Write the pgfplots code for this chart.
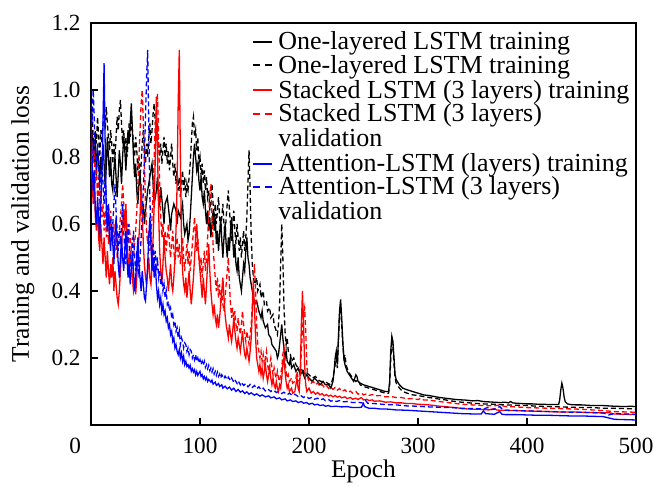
\documentclass[border=0pt]{standalone}
\usepackage{fontspec}
\setmainfont{Liberation Serif}
\usepackage{pgfplots}
\pgfplotsset{compat=1.18}

\tikzset{
  dsh/.style={dash pattern=on 2.5pt off 1.5pt},
  ldsh/.style={dash pattern=on 3.5pt off 2.5pt},
  legln/.style={line width=1pt},
  legtxt/.style={anchor=base west, inner sep=0pt, font=\fontsize{13}{14}\selectfont},
}

\pgfplotsset{
  lossstyle/.style={
    scale only axis, width=272.5pt, height=201pt,
    at={(0,0)}, anchor=south west,
    xmin=0, xmax=500, ymin=0, ymax=1.2,
    axis line style={line width=1pt},
    tick align=inside, tick pos=left,
    major tick length=3.5pt,
    every tick/.style={black, line width=0.8pt},
    xtick={0,100,200,300,400,500},
    xticklabels={\makebox[0pt][r]{0\hspace{5pt}},100,200,300,400,500},
    ytick={0.2,0.4,0.6,0.8,1.0,1.2},
    yticklabels={0.2,0.4,0.6,0.8,1.0,1.2},
    tick label style={font=\fontsize{11.6}{13}\selectfont},
    xticklabel style={yshift=-3pt},
    yticklabel style={xshift=-1.7pt},
    label style={font=\fontsize{12.7}{14}\selectfont},
    xlabel style={at={(axis description cs:0.5,-0.1318)}, anchor=base},
    ylabel style={at={(axis description cs:-0.1138,0.5)}, anchor=base},
    every axis plot/.append style={line width=0.65pt},
  },
}

\begin{document}
\begin{tikzpicture}
\useasboundingbox (-45.5pt,-31pt) rectangle (281.5pt,212.5pt);
\begin{axis}[
  lossstyle,
  xlabel={Epoch},
  ylabel={Traning and validation loss},
]

% One-layered LSTM training
\addplot[black] coordinates {
(0,0.80)(1,0.88)(2,0.84)(3,0.78)(4,0.86)(5,0.74)(6,0.82)(7,0.79)(8,0.72)(9,0.80)
(10,0.76)(11,0.84)(12,0.78)(13,0.71)(14,0.77)(15,0.86)(16,0.80)(17,0.74)(18,0.80)(19,0.72)
(20,0.70)(21,0.76)(22,0.80)(23,0.74)(24,0.68)(25,0.75)(26,0.82)(27,0.78)(28,0.72)(29,0.80)
(30,0.86)(31,0.82)(32,0.76)(33,0.83)(34,0.88)(35,0.84)(36,0.90)(37,0.96)(38,0.88)(39,0.80)
(40,0.74)(41,0.78)(42,0.70)(43,0.66)(44,0.72)(45,0.76)(46,0.68)(47,0.63)(48,0.66)(49,0.60)
(50,0.64)(52,0.70)(54,0.74)(56,0.78)(57,0.72)(58,0.66)(60,0.70)(61,0.74)(62,0.68)(63,0.66)
(64,0.71)(66,0.64)(67,0.60)(68,0.66)(70,0.68)(72,0.62)(73,0.58)(74,0.63)(76,0.66)(78,0.64)
(79,0.60)(80,0.64)(82,0.62)(84,0.66)(85,0.60)(86,0.57)(88,0.60)(89,0.55)(90,0.57)(91,0.62)
(92,0.68)(93,0.74)(94,0.80)(95,0.84)(96,0.80)(97,0.76)(98,0.78)(99,0.73)(100,0.70)(101,0.74)
(102,0.68)(103,0.66)(104,0.70)(105,0.64)(106,0.60)(107,0.64)(108,0.58)(109,0.62)(110,0.56)
(111,0.60)(112,0.64)(113,0.58)(114,0.62)(115,0.54)(116,0.58)(117,0.52)(118,0.57)(119,0.62)
(120,0.55)(121,0.50)(122,0.56)(123,0.60)(124,0.54)(125,0.50)(126,0.56)(127,0.52)(128,0.58)
(129,0.62)(130,0.56)(131,0.50)(132,0.54)(133,0.48)(134,0.46)(135,0.50)(136,0.44)(137,0.42)
(138,0.40)(139,0.44)(140,0.48)(141,0.46)(142,0.52)(143,0.56)(144,0.50)(145,0.48)(146,0.44)
(147,0.42)(148,0.40)(149,0.38)(150,0.36)(152,0.37)(154,0.34)(156,0.32)(157,0.34)(158,0.31)
(160,0.29)(162,0.30)(163,0.27)(165,0.26)(166,0.24)(168,0.23)(170,0.22)(171,0.20)(172,0.21)
(173,0.24)(174,0.27)(175,0.30)(176,0.26)(177,0.23)(178,0.20)(179,0.22)(180,0.19)(182,0.18)
(183,0.20)(184,0.17)(186,0.18)(188,0.16)(190,0.17)(192,0.15)(194,0.16)(196,0.14)(198,0.15)
(200,0.14)(203,0.13)(205,0.14)(208,0.13)(210,0.12)(213,0.13)(215,0.12)(218,0.12)(220,0.11)
(222,0.13)(223,0.16)(224,0.20)(225,0.22)(226,0.18)(227,0.26)(228,0.34)(229,0.375)(230,0.32)
(231,0.25)(232,0.20)(233,0.18)(235,0.16)(237,0.15)(239,0.14)(241,0.13)(243,0.15)(244,0.145)
(245,0.13)(247,0.125)(250,0.12)(255,0.115)(260,0.11)(265,0.105)(270,0.10)(273,0.10)(274,0.13)
(275,0.22)(276,0.265)(277,0.25)(278,0.20)(279,0.15)(280,0.135)(283,0.12)(286,0.11)(290,0.105)
(295,0.10)(300,0.095)(305,0.09)(310,0.088)(315,0.085)(320,0.082)(325,0.08)(330,0.078)
(335,0.076)(340,0.075)(345,0.074)(350,0.072)(355,0.073)(360,0.07)(365,0.069)(370,0.068)
(375,0.067)(380,0.068)(383,0.066)(385,0.07)(387,0.066)(390,0.065)(395,0.064)(400,0.063)
(405,0.063)(410,0.062)(415,0.062)(420,0.061)(425,0.061)(429,0.061)(430,0.075)(431,0.105)
(432,0.125)(433,0.11)(434,0.085)(435,0.07)(437,0.063)(440,0.061)(445,0.06)(450,0.06)
(460,0.058)(470,0.058)(480,0.056)(490,0.055)(495,0.056)(500,0.055)
};

% One-layered LSTM validation
\addplot[black, dsh] coordinates {
(0,0.90)(1,0.95)(2,0.86)(3,0.80)(4,0.88)(5,0.84)(6,0.92)(7,0.86)(8,0.80)(9,0.88)
(10,0.84)(11,0.90)(12,0.93)(13,0.88)(14,0.95)(15,0.90)(16,0.86)(17,0.82)(18,0.88)(19,0.84)
(20,0.78)(21,0.84)(22,0.80)(23,0.86)(24,0.92)(25,0.88)(26,0.94)(27,0.97)(28,0.90)(29,0.84)
(30,0.88)(31,0.82)(32,0.86)(33,0.80)(34,0.84)(35,0.90)(36,0.86)(37,0.92)(38,0.88)(39,0.84)
(40,0.80)(41,0.86)(42,0.82)(43,0.76)(44,0.80)(45,0.74)(46,0.78)(47,0.84)(48,0.88)(49,0.82)
(50,0.78)(51,0.84)(52,0.80)(53,0.86)(54,0.90)(55,0.84)(56,0.88)(57,0.93)(58,0.96)(59,0.90)
(60,0.86)(61,0.90)(62,0.84)(63,0.80)(64,0.84)(65,0.78)(66,0.82)(67,0.86)(68,0.80)(69,0.84)
(70,0.78)(71,0.82)(72,0.76)(73,0.80)(74,0.84)(75,0.78)(76,0.74)(77,0.78)(78,0.72)(79,0.76)
(80,0.70)(81,0.74)(82,0.68)(83,0.72)(84,0.76)(85,0.70)(86,0.74)(87,0.68)(88,0.72)(89,0.70)
(90,0.74)(91,0.78)(92,0.84)(93,0.90)(94,0.92)(95,0.86)(96,0.88)(97,0.82)(98,0.86)(99,0.78)
(100,0.80)(101,0.74)(102,0.78)(103,0.72)(104,0.76)(105,0.70)(106,0.74)(107,0.68)(108,0.70)
(109,0.64)(110,0.68)(111,0.72)(112,0.66)(113,0.62)(114,0.66)(115,0.60)(116,0.64)(117,0.68)
(118,0.62)(119,0.58)(120,0.62)(121,0.66)(122,0.60)(123,0.56)(124,0.62)(125,0.66)(126,0.70)
(127,0.64)(128,0.60)(129,0.55)(130,0.60)(131,0.64)(132,0.58)(133,0.54)(134,0.60)(135,0.56)
(136,0.52)(137,0.56)(138,0.50)(139,0.54)(140,0.58)(141,0.52)(142,0.56)(143,0.62)(144,0.72)
(145,0.82)(146,0.70)(147,0.56)(148,0.48)(149,0.44)(150,0.42)(152,0.44)(153,0.40)(155,0.42)
(156,0.38)(158,0.40)(159,0.36)(161,0.37)(162,0.34)(164,0.35)(165,0.32)(167,0.33)(168,0.30)
(170,0.28)(171,0.27)(172,0.30)(173,0.36)(174,0.48)(175,0.60)(176,0.50)(177,0.36)(178,0.28)
(179,0.24)(180,0.26)(181,0.22)(183,0.21)(184,0.19)(186,0.20)(188,0.18)(190,0.17)(192,0.16)
(194,0.17)(196,0.15)(198,0.155)(200,0.15)(203,0.14)(206,0.145)(208,0.135)(211,0.13)
(214,0.13)(217,0.125)(220,0.12)(222,0.14)(224,0.18)(225,0.20)(226,0.17)(227,0.25)(228,0.33)
(229,0.35)(230,0.30)(231,0.24)(232,0.20)(233,0.21)(234,0.18)(236,0.16)(238,0.15)(240,0.14)
(243,0.13)(245,0.135)(247,0.12)(250,0.115)(255,0.11)(260,0.105)(265,0.10)(270,0.095)
(273,0.095)(274,0.12)(275,0.20)(276,0.245)(277,0.23)(278,0.18)(279,0.14)(280,0.125)
(283,0.11)(286,0.10)(290,0.095)(295,0.09)(300,0.088)(305,0.085)(310,0.082)(315,0.08)
(320,0.077)(325,0.075)(330,0.072)(335,0.07)(340,0.068)(345,0.067)(350,0.065)(360,0.063)
(370,0.062)(380,0.06)(390,0.059)(400,0.058)(410,0.056)(420,0.055)(430,0.054)(440,0.053)
(450,0.052)(460,0.052)(470,0.05)(480,0.05)(490,0.049)(500,0.048)
};

% Stacked LSTM training
\addplot[red] coordinates {
(0,0.85)(1,0.74)(2,0.66)(3,0.72)(4,0.62)(5,0.58)(6,0.66)(7,0.56)(8,0.52)(9,0.60)
(10,0.54)(11,0.48)(12,0.56)(13,0.50)(14,0.44)(15,0.52)(16,0.46)(17,0.42)(18,0.48)(19,0.44)
(20,0.50)(21,0.40)(22,0.46)(23,0.42)(24,0.38)(25,0.36)(26,0.40)(27,0.46)(28,0.52)(29,0.60)
(30,0.64)(31,0.58)(32,0.66)(33,0.56)(34,0.50)(35,0.46)(36,0.52)(37,0.48)(38,0.44)(39,0.40)
(40,0.42)(41,0.39)(42,0.44)(43,0.50)(44,0.56)(45,0.62)(46,0.72)(47,0.64)(48,0.54)(49,0.48)
(50,0.44)(51,0.42)(52,0.46)(53,0.50)(54,0.44)(55,0.42)(56,0.48)(57,0.56)(58,0.66)(59,0.80)
(60,0.98)(61,0.82)(62,0.64)(63,0.52)(64,0.46)(65,0.42)(66,0.48)(67,0.56)(68,0.50)(69,0.46)
(70,0.44)(71,0.40)(72,0.44)(73,0.48)(74,0.42)(75,0.40)(76,0.44)(77,0.50)(78,0.58)(79,0.72)
(80,0.96)(81,1.12)(82,0.80)(83,0.56)(84,0.46)(85,0.42)(86,0.40)(87,0.44)(88,0.38)(89,0.42)
(90,0.46)(91,0.40)(92,0.36)(93,0.40)(94,0.44)(95,0.50)(96,0.56)(97,0.60)(98,0.54)(99,0.50)
(100,0.46)(101,0.42)(102,0.38)(103,0.44)(104,0.40)(105,0.36)(106,0.42)(107,0.48)(108,0.54)
(109,0.46)(110,0.40)(111,0.36)(112,0.33)(113,0.36)(114,0.32)(115,0.30)(116,0.33)(117,0.29)
(118,0.32)(119,0.36)(120,0.40)(121,0.44)(122,0.38)(123,0.33)(124,0.30)(125,0.28)(126,0.26)
(127,0.30)(128,0.27)(129,0.25)(130,0.28)(131,0.32)(132,0.28)(133,0.25)(134,0.23)(135,0.26)
(136,0.24)(137,0.22)(138,0.25)(139,0.28)(140,0.24)(141,0.21)(142,0.20)(143,0.23)(144,0.21)
(145,0.19)(146,0.22)(147,0.26)(148,0.34)(149,0.42)(150,0.35)(151,0.26)(152,0.20)(153,0.18)
(154,0.16)(155,0.18)(156,0.15)(157,0.17)(158,0.14)(159,0.16)(160,0.18)(161,0.15)(162,0.13)
(163,0.15)(164,0.17)(165,0.14)(166,0.12)(167,0.14)(168,0.12)(169,0.11)(170,0.13)(171,0.11)
(172,0.10)(173,0.12)(174,0.11)(175,0.14)(176,0.18)(177,0.20)(178,0.16)(179,0.13)(180,0.11)
(181,0.12)(182,0.10)(184,0.11)(185,0.095)(187,0.10)(188,0.12)(189,0.14)(190,0.11)(191,0.10)
(192,0.16)(193,0.30)(194,0.40)(195,0.30)(196,0.18)(197,0.12)(198,0.10)(200,0.11)(202,0.095)
(204,0.10)(206,0.092)(208,0.097)(210,0.09)(212,0.094)(214,0.087)(216,0.091)(218,0.086)
(220,0.089)(222,0.084)(224,0.088)(226,0.083)(228,0.086)(230,0.081)(233,0.084)(235,0.079)
(238,0.082)(240,0.077)(243,0.08)(245,0.076)(248,0.082)(250,0.075)(253,0.077)(255,0.073)
(258,0.075)(260,0.071)(265,0.072)(270,0.068)(275,0.069)(280,0.066)(285,0.066)(290,0.064)
(295,0.064)(300,0.062)(305,0.061)(310,0.06)(315,0.058)(320,0.056)(325,0.055)(330,0.053)
(335,0.052)(340,0.049)(345,0.048)(350,0.047)(355,0.047)(360,0.046)(365,0.045)(370,0.049)
(372,0.045)(375,0.044)(380,0.044)(390,0.043)(400,0.042)(410,0.041)(420,0.04)(430,0.039)
(440,0.039)(450,0.038)(460,0.037)(470,0.036)(475,0.037)(480,0.033)(490,0.032)(500,0.031)
};

% Stacked LSTM validation
\addplot[red, dsh] coordinates {
(0,0.92)(1,0.84)(2,0.78)(3,0.82)(4,0.72)(5,0.76)(6,0.68)(7,0.74)(8,0.64)(9,0.70)
(10,0.62)(11,0.66)(12,0.58)(13,0.64)(14,0.56)(15,0.62)(16,0.54)(17,0.58)(18,0.64)(19,0.58)
(20,0.54)(21,0.60)(22,0.52)(23,0.56)(24,0.50)(25,0.54)(26,0.58)(27,0.62)(28,0.66)(29,0.72)
(30,0.66)(31,0.60)(32,0.64)(33,0.58)(34,0.54)(35,0.60)(36,0.56)(37,0.52)(38,0.56)(39,0.50)
(40,0.54)(41,0.58)(42,0.64)(43,0.72)(44,0.80)(45,0.88)(46,0.96)(47,1.00)(48,0.90)(49,0.78)
(50,0.66)(51,0.58)(52,0.54)(53,0.58)(54,0.52)(55,0.56)(56,0.62)(57,0.70)(58,0.80)(59,0.90)
(60,0.94)(61,0.99)(62,0.86)(63,0.72)(64,0.62)(65,0.56)(66,0.60)(67,0.54)(68,0.58)(69,0.52)
(70,0.56)(71,0.60)(72,0.54)(73,0.50)(74,0.54)(75,0.58)(76,0.52)(77,0.48)(78,0.52)(79,0.56)
(80,0.50)(81,0.54)(82,0.48)(83,0.52)(84,0.56)(85,0.50)(86,0.46)(87,0.50)(88,0.54)(89,0.48)
(90,0.52)(91,0.46)(92,0.50)(93,0.54)(94,0.58)(95,0.62)(96,0.56)(97,0.52)(98,0.56)(99,0.50)
(100,0.46)(101,0.50)(102,0.44)(103,0.48)(104,0.52)(105,0.46)(106,0.50)(107,0.56)(108,0.62)
(109,0.68)(110,0.72)(111,0.62)(112,0.54)(113,0.48)(114,0.44)(115,0.40)(116,0.44)(117,0.38)
(118,0.42)(119,0.36)(120,0.40)(121,0.36)(122,0.34)(123,0.38)(124,0.42)(125,0.46)(126,0.50)
(127,0.42)(128,0.36)(129,0.32)(130,0.35)(131,0.31)(132,0.34)(133,0.30)(134,0.28)(135,0.32)
(136,0.29)(137,0.27)(138,0.30)(139,0.34)(140,0.30)(141,0.27)(142,0.25)(143,0.28)(144,0.26)
(145,0.24)(146,0.27)(147,0.30)(148,0.36)(149,0.44)(150,0.48)(151,0.40)(152,0.30)(153,0.24)
(154,0.22)(155,0.20)(156,0.22)(157,0.19)(158,0.21)(159,0.18)(160,0.20)(161,0.22)(162,0.18)
(163,0.16)(164,0.18)(165,0.20)(166,0.17)(167,0.15)(168,0.17)(169,0.15)(170,0.14)(171,0.16)
(172,0.14)(173,0.13)(174,0.15)(175,0.17)(176,0.21)(177,0.23)(178,0.19)(179,0.16)(180,0.14)
(181,0.15)(182,0.13)(184,0.14)(185,0.125)(187,0.13)(188,0.14)(189,0.16)(190,0.14)(191,0.13)
(192,0.15)(193,0.22)(194,0.28)(195,0.33)(196,0.35)(197,0.28)(198,0.18)(199,0.14)(200,0.13)
(202,0.125)(204,0.13)(206,0.12)(208,0.126)(210,0.115)(212,0.121)(214,0.112)(216,0.118)
(218,0.109)(220,0.114)(222,0.106)(224,0.112)(226,0.104)(228,0.109)(230,0.10)(233,0.105)
(235,0.097)(238,0.101)(240,0.095)(243,0.10)(245,0.092)(248,0.096)(250,0.09)(253,0.093)
(255,0.088)(258,0.091)(260,0.087)(265,0.088)(270,0.084)(275,0.085)(280,0.082)(285,0.082)
(290,0.078)(295,0.079)(300,0.076)(303,0.08)(305,0.075)(310,0.074)(315,0.072)(320,0.07)
(325,0.068)(330,0.066)(335,0.064)(340,0.062)(345,0.061)(350,0.06)(360,0.058)(370,0.057)
(375,0.06)(380,0.055)(390,0.054)(400,0.052)(410,0.051)(420,0.05)(430,0.049)(440,0.048)
(450,0.047)(460,0.045)(470,0.043)(480,0.04)(490,0.039)(500,0.038)
};

% Attention-LSTM training
\addplot[blue] coordinates {
(0,0.92)(1,0.80)(2,0.70)(3,0.76)(4,0.64)(5,0.60)(6,0.68)(7,0.62)(8,0.56)(9,0.66)
(10,0.74)(11,0.90)(12,1.08)(13,0.84)(14,0.64)(15,0.58)(16,0.66)(17,0.56)(18,0.52)(19,0.60)
(20,0.54)(21,0.48)(22,0.56)(23,0.62)(24,0.54)(25,0.48)(26,0.44)(27,0.50)(28,0.56)(29,0.50)
(30,0.46)(31,0.52)(32,0.58)(33,0.50)(34,0.44)(35,0.48)(36,0.42)(37,0.46)(38,0.52)(39,0.46)
(40,0.40)(41,0.44)(42,0.50)(43,0.56)(44,0.48)(45,0.44)(46,0.40)(47,0.46)(48,0.42)(49,0.38)
(50,0.37)(51,0.42)(52,0.48)(53,0.56)(54,0.62)(55,0.54)(56,0.46)(57,0.50)(58,0.44)(59,0.48)
(60,0.42)(61,0.38)(62,0.40)(63,0.36)(64,0.38)(65,0.34)(66,0.36)(67,0.33)(68,0.34)(69,0.31)
(70,0.32)(71,0.29)(72,0.30)(73,0.27)(74,0.28)(75,0.25)(76,0.26)(77,0.23)(78,0.24)(79,0.22)
(80,0.21)(81,0.225)(82,0.20)(83,0.215)(84,0.19)(85,0.205)(86,0.18)(87,0.19)(88,0.175)
(89,0.18)(90,0.17)(91,0.178)(92,0.16)(93,0.168)(94,0.158)(95,0.165)(96,0.15)(97,0.16)
(98,0.148)(99,0.155)(100,0.16)(101,0.145)(102,0.15)(103,0.138)(104,0.145)(105,0.135)
(106,0.142)(107,0.13)(108,0.136)(110,0.128)(111,0.134)(112,0.122)(114,0.128)(115,0.118)
(117,0.124)(118,0.115)(120,0.12)(121,0.11)(123,0.116)(125,0.108)(127,0.113)(129,0.104)
(131,0.11)(133,0.10)(135,0.106)(137,0.098)(139,0.102)(141,0.094)(143,0.099)(145,0.092)
(147,0.096)(150,0.089)(152,0.093)(155,0.086)(157,0.09)(160,0.084)(163,0.087)(165,0.081)
(168,0.084)(170,0.078)(173,0.081)(175,0.075)(178,0.078)(180,0.072)(183,0.075)(185,0.07)
(188,0.072)(190,0.067)(193,0.07)(195,0.065)(198,0.067)(200,0.062)(203,0.065)(205,0.06)
(208,0.062)(210,0.058)(213,0.06)(215,0.056)(218,0.058)(220,0.055)(225,0.056)(230,0.054)
(235,0.055)(240,0.052)(245,0.052)(248,0.053)(250,0.064)(251,0.055)(255,0.05)(260,0.05)
(265,0.048)(270,0.048)(280,0.045)(290,0.044)(300,0.042)(310,0.04)(320,0.038)(330,0.036)
(340,0.034)(350,0.033)(358,0.033)(360,0.042)(362,0.034)(370,0.032)(375,0.04)(377,0.032)
(380,0.031)(390,0.031)(400,0.03)(410,0.029)(420,0.029)(430,0.028)(440,0.027)(450,0.027)
(460,0.026)(470,0.025)(475,0.021)(480,0.017)(490,0.016)(500,0.015)
};

% Attention-LSTM validation
\addplot[blue, dsh] coordinates {
(0,0.96)(1,0.90)(2,1.00)(3,0.92)(4,0.80)(5,0.76)(6,0.84)(7,0.78)(8,0.70)(9,0.74)
(10,0.80)(11,0.72)(12,0.66)(13,0.74)(14,0.68)(15,0.60)(16,0.66)(17,0.58)(18,0.62)(19,0.56)
(20,0.60)(21,0.66)(22,0.72)(23,0.64)(24,0.58)(25,0.52)(26,0.58)(27,0.54)(28,0.60)(29,0.66)
(30,0.58)(31,0.52)(32,0.48)(33,0.54)(34,0.60)(35,0.54)(36,0.50)(37,0.46)(38,0.52)(39,0.58)
(40,0.50)(41,0.46)(42,0.52)(43,0.48)(44,0.44)(45,0.50)(46,0.56)(47,0.62)(48,0.70)(49,0.80)
(50,0.92)(51,1.04)(52,1.12)(53,0.90)(54,0.68)(55,0.56)(56,0.50)(57,0.54)(58,0.48)(59,0.52)
(60,0.46)(61,0.50)(62,0.44)(63,0.46)(64,0.42)(65,0.44)(66,0.40)(67,0.42)(68,0.38)(69,0.40)
(70,0.36)(71,0.37)(72,0.34)(73,0.35)(74,0.32)(75,0.33)(76,0.30)(77,0.31)(78,0.28)(79,0.29)
(80,0.26)(81,0.28)(82,0.24)(83,0.26)(84,0.25)(85,0.23)(86,0.245)(87,0.24)(88,0.22)(89,0.23)
(90,0.21)(91,0.225)(92,0.22)(93,0.20)(94,0.21)(95,0.195)(96,0.21)(97,0.19)(98,0.20)
(99,0.185)(100,0.195)(101,0.18)(102,0.19)(103,0.178)(104,0.19)(105,0.172)(106,0.18)
(107,0.168)(108,0.178)(109,0.162)(110,0.17)(111,0.158)(112,0.168)(113,0.152)(114,0.16)
(115,0.148)(116,0.158)(117,0.145)(118,0.152)(119,0.14)(120,0.15)(122,0.138)(123,0.146)
(125,0.135)(126,0.143)(128,0.132)(129,0.14)(131,0.128)(132,0.135)(134,0.124)(135,0.132)
(137,0.12)(138,0.128)(140,0.118)(142,0.124)(144,0.114)(146,0.121)(148,0.112)(150,0.118)
(152,0.108)(154,0.114)(156,0.105)(158,0.11)(160,0.102)(162,0.108)(165,0.10)(167,0.105)
(170,0.097)(172,0.10)(175,0.094)(177,0.098)(180,0.09)(182,0.095)(185,0.088)(187,0.092)
(190,0.085)(192,0.089)(195,0.082)(197,0.086)(200,0.079)(203,0.083)(205,0.077)(208,0.08)
(210,0.075)(213,0.078)(215,0.073)(218,0.076)(220,0.071)(223,0.074)(225,0.07)(228,0.073)
(230,0.069)(235,0.07)(240,0.067)(245,0.068)(250,0.065)(252,0.073)(254,0.065)(260,0.064)
(270,0.061)(280,0.06)(290,0.057)(300,0.056)(310,0.054)(320,0.053)(330,0.052)(340,0.05)
(350,0.049)(360,0.048)(364,0.052)(366,0.046)(370,0.047)(375,0.055)(378,0.045)(380,0.044)
(390,0.043)(400,0.042)(410,0.041)(420,0.04)(430,0.039)(440,0.038)(450,0.038)(460,0.037)
(470,0.036)(475,0.03)(480,0.034)(490,0.033)(500,0.032)
};

% legend samples, drawn with the plots
\draw[legln, black] (axis cs:148.6,1.1433) -- (axis cs:166.06,1.1433);
\draw[legln, black, ldsh] (axis cs:148.6,1.0734) -- (axis cs:166.06,1.0734);
\draw[legln, red] (axis cs:148.6,0.9988) -- (axis cs:166.06,0.9988);
\draw[legln, red, ldsh] (axis cs:148.6,0.9296) -- (axis cs:166.06,0.9296);
\draw[legln, blue] (axis cs:148.6,0.7803) -- (axis cs:166.06,0.7803);
\draw[legln, blue, ldsh] (axis cs:148.6,0.7104) -- (axis cs:166.06,0.7104);

\end{axis}

% legend texts (axis origin at its lower left corner)
\node[legtxt] at (93.5pt,187.5pt) {One-layered LSTM training};
\node[legtxt] at (93.5pt,175.8pt) {One-layered LSTM training};
\node[legtxt] at (93.5pt,163.3pt) {Stacked LSTM (3 layers) training};
\node[legtxt] at (93.5pt,151.7pt) {Stacked LSTM (3 layers)};
\node[legtxt] at (93.5pt,139.2pt) {validation};
\node[legtxt] at (93.5pt,126.7pt) {Attention-LSTM (layers) training};
\node[legtxt] at (93.5pt,115pt) {Attention-LSTM (3 layers)};
\node[legtxt] at (93.5pt,102.5pt) {validation};
\end{tikzpicture}
\end{document}
